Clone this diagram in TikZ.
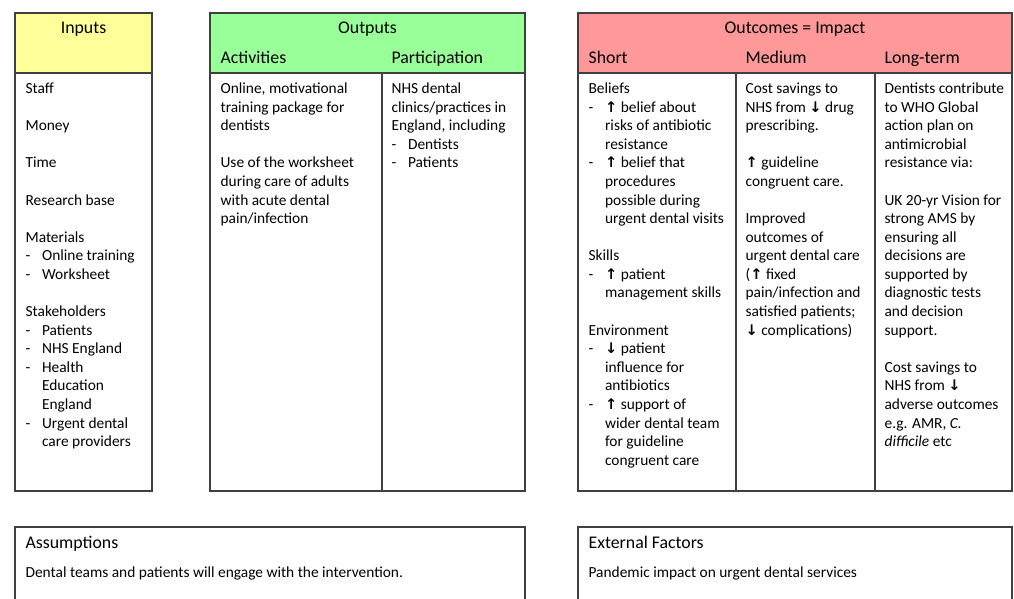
\documentclass[tikz,border=0pt]{standalone}
\usepackage{fontspec}
\setmainfont{Carlito}
\newfontfamily\arrowfont[Scale=0.95]{DejaVu Sans}
\usetikzlibrary{positioning}

\newcommand\upar{{\arrowfont\bfseries ↑}}
\newcommand\dnar{{\arrowfont\bfseries ↓}}
\newcommand\dsh{\makebox[16.5pt][l]{-}}
\newcommand\hng{\hspace*{16.5pt}}

\definecolor{inyellow}{RGB}{255,255,153}
\definecolor{outgreen}{RGB}{153,255,153}
\definecolor{impred}{RGB}{255,153,153}

\begin{document}
\begin{tikzpicture}[x=1pt,y=-1pt,line width=1.2pt,
	cell/.style={draw=black!75,anchor=north west,outer sep=0pt,inner sep=0pt},
	hdr/.style={inner sep=0pt,font=\fontsize{17.8}{21}\selectfont},
	txt/.style={align=left,inner sep=0pt,font=\fontsize{15.4}{18.58}\selectfont}]
	\useasboundingbox (0,0) rectangle (1014,599);

	% inputs
	\node [cell,fill=inyellow,minimum width=137pt,minimum height=60pt] at (15,13) (in_head) {};
	\node [cell,minimum width=137pt,minimum height=418pt] at (15,73) (in_body) {};
	\node [hdr,anchor=base] at (83.5,34) (in_title) {Inputs};
	\node [txt,below right=7pt and 10pt of in_body.north west] (in_text) {\strut Staff\\[\baselineskip] Money\\[\baselineskip] Time\\[\baselineskip] Research base\\[\baselineskip] Materials\\ \dsh Online training\\ \dsh Worksheet\\[\baselineskip] Stakeholders\\ \dsh Patients\\ \dsh NHS England\\ \dsh Health\\ \hng Education\\ \hng England\\ \dsh Urgent dental\\ \hng care providers};

	% outputs
	\node [cell,fill=outgreen,minimum width=315pt,minimum height=60pt] at (210,13) (out_head) {};
	\node [cell,minimum width=172pt,minimum height=418pt] at (210,73) (act_body) {};
	\node [cell,minimum width=143pt,minimum height=418pt,right=0pt of act_body] (part_body) {};
	\node [hdr,anchor=base] at (367.5,34) (out_title) {Outputs};
	\node [hdr,anchor=base west] at (220,64) (act_title) {Activities};
	\node [hdr,anchor=base west] at (391,64) (part_title) {Participation};
	\node [txt,below right=7pt and 10pt of act_body.north west] (act_text) {\strut Online, motivational\\ training package for\\ dentists\\[\baselineskip] Use of the worksheet\\ during care of adults\\ with acute dental\\ pain/infection};
	\node [txt,below right=7pt and 9pt of part_body.north west] (part_text) {\strut NHS dental\\ clinics/practices in\\ England, including\\ \dsh Dentists\\ \dsh Patients};

	% outcomes
	\node [cell,fill=impred,minimum width=434pt,minimum height=60pt] at (578,13) (imp_head) {};
	\node [cell,minimum width=158pt,minimum height=418pt] at (578,73) (short_body) {};
	\node [cell,minimum width=139pt,minimum height=418pt,right=0pt of short_body] (med_body) {};
	\node [cell,minimum width=137pt,minimum height=418pt,right=0pt of med_body] (long_body) {};
	\node [hdr,anchor=base] at (795,34) (imp_title) {Outcomes = Impact};
	\node [hdr,anchor=base west] at (588,64) (short_title) {Short};
	\node [hdr,anchor=base west] at (745,64) (med_title) {Medium};
	\node [hdr,anchor=base west] at (884,64) (long_title) {Long-term};
	\node [txt,below right=7pt and 10pt of short_body.north west] (short_text) {\strut Beliefs\\ \dsh\upar\ belief about\\ \hng risks of antibiotic\\ \hng resistance\\ \dsh\upar\ belief that\\ \hng procedures\\ \hng possible during\\ \hng urgent dental visits\\[\baselineskip] Skills\\ \dsh\upar\ patient\\ \hng management skills\\[\baselineskip] Environment\\ \dsh\dnar\ patient\\ \hng influence for\\ \hng antibiotics\\ \dsh\upar\ support of\\ \hng wider dental team\\ \hng for guideline\\ \hng congruent care};
	\node [txt,below right=7pt and 9pt of med_body.north west] (med_text) {\strut Cost savings to\\ NHS from \dnar\ drug\\ prescribing.\\[\baselineskip] \upar\ guideline\\ congruent care.\\[\baselineskip] Improved\\ outcomes of\\ urgent dental care\\ (\upar\ fixed\\ pain/infection and\\ satisfied patients;\\ \dnar\ complications)};
	\node [txt,below right=7pt and 9pt of long_body.north west] (long_text) {\strut Dentists contribute\\ to WHO Global\\ action plan on\\ antimicrobial\\ resistance via:\\[\baselineskip] UK 20-yr Vision for\\ strong AMS by\\ ensuring all\\ decisions are\\ supported by\\ diagnostic tests\\ and decision\\ support.\\[\baselineskip] Cost savings to\\ NHS from \dnar\\ adverse outcomes\\ e.g. AMR, \textit{C.}\\ \textit{difficile} etc};

	% assumptions and external factors
	\node [cell,minimum width=510pt,minimum height=110pt] at (15,527) (assum_box) {};
	\node [hdr,anchor=base west] at (25,548) (assum_title) {Assumptions};
	\node [txt,anchor=base west] at (25,577) (assum_text) {Dental teams and patients will engage with the intervention.};
	\node [cell,minimum width=434pt,minimum height=110pt] at (578,527) (ext_box) {};
	\node [hdr,anchor=base west] at (588,548) (ext_title) {External Factors};
	\node [txt,anchor=base west] at (588,577) (ext_text) {Pandemic impact on urgent dental services};
\end{tikzpicture}
\end{document}
